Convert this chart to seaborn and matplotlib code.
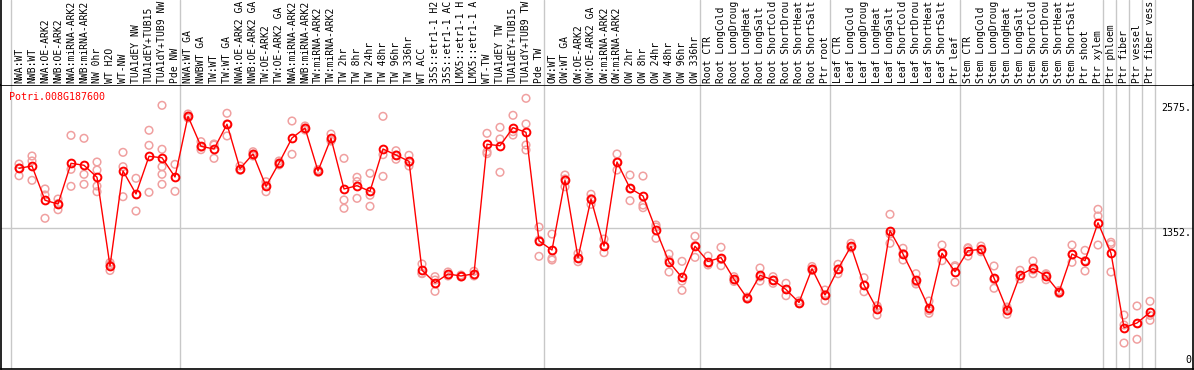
import matplotlib
matplotlib.use("Agg")
import matplotlib.pyplot as plt
import seaborn as sns
import pandas as pd
import numpy as np

# ---------------- data ----------------
gene_id = "Potri.008G187600"

labels = [
    "NWA:WT", "NWB:WT", "NWA:OE-ARK2", "NWB:OE-ARK2", "NWA:miRNA-ARK2", "NWB:miRNA-ARK2",
    "NW 0hr", "WT H2O", "WT-NW", "TUA1dEY NW", "TUA1dEY+TUB15", "TUA1dY+TUB9 NW", "Pde NW",
    "NWA:WT GA", "NWBWT GA", "TW:WT", "TW:WT GA", "NWA:OE-ARK2 GA", "NWB:OE-ARK2 GA",
    "TW:OE-ARK2", "TW:OE-ARK2 GA", "NWA:miRNA-ARK2", "NWB:miRNA-ARK2", "TW:miRNA-ARK2",
    "TW:miRNA-ARK2", "TW 2hr", "TW 8hr", "TW 24hr", "TW 48hr", "TW 96hr", "TW 336hr",
    "WT ACC", "35S::etr1-1 H2", "35S::etr1-1 AC", "LMX5::etr1-1 H", "LMX5::etr1-1 A",
    "WT-TW", "TUA1dEY TW", "TUA1dEY+TUB15", "TUA1dY+TUB9 TW", "Pde TW",
    "OW:WT", "OW:WT GA", "OW:OE-ARK2", "OW:OE-ARK2 GA", "OW:miRNA-ARK2", "OW:miRNA-ARK2",
    "OW 2hr", "OW 8hr", "OW 24hr", "OW 48hr", "OW 96hr", "OW 336hr",
    "Root CTR", "Root LongCold", "Root LongDroug", "Root LongHeat", "Root LongSalt",
    "Root ShortCold", "Root ShortDrou", "Root ShortHeat", "Root ShortSalt", "Ptr root",
    "Leaf CTR", "Leaf LongCold", "Leaf LongDroug", "Leaf LongHeat", "Leaf LongSalt",
    "Leaf ShortCold", "Leaf ShortDrou", "Leaf ShortHeat", "Leaf ShortSalt", "Ptr leaf",
    "Stem CTR", "Stem LongCold", "Stem LongDroug", "Stem LongHeat", "Stem LongSalt",
    "Stem ShortCold", "Stem ShortDrou", "Stem ShortHeat", "Stem ShortSalt", "Ptr shoot",
    "Ptr xylem", "Ptr phloem", "Ptr fiber", "Ptr vessel", "Ptr fiber vess",
]

mean_values = [
    1936, 1959, 1622, 1585, 1985, 1966, 1848, 976, 1910, 1684, 2054, 2040, 1851,
    2447, 2152, 2126, 2369, 1932, 2077, 1759, 1988, 2234, 2332, 1910, 2231, 1733,
    1765, 1710, 2126, 2067, 2005, 934, 812, 897, 878, 899, 2172, 2158, 2335, 2290, 1222,
    1133, 1818, 1057, 1634, 1172, 1998, 1740, 1664, 1330, 1015, 863, 1170,
    1020, 1059, 846, 661, 885, 838, 745, 617, 949, 691,
    946, 1170, 789, 553, 1323, 1094, 838, 560, 1101, 920,
    1126, 1140, 858, 543, 887, 953, 878, 720, 1094, 1028, 1401,
    1101, 370, 416, 521,
]

replicate_values = [
    [1978, 1939, 1863], [2057, 2008, 1818], [1733, 1674, 1445], [1634, 1590, 1529],
    [2260, 1926, 1759], [2231, 1877, 1779], [1998, 1919, 1762, 1706], [1010, 986, 932],
    [2093, 1952, 1657], [1838, 1516], [2310, 2162, 1700], [2555, 2123, 1952, 1877, 1779],
    [1975, 1710],
    [2470, 2450, 2430], [2198, 2145, 2119], [2175, 2165, 2034], [2477, 2372, 2254],
    [1959, 1924, 1916], [2099, 2077, 2057], [1804, 1767, 1706], [2008, 1988, 1969],
    [2401, 2074], [2352, 2332, 2312], [1924, 1910, 1897], [2273, 2214, 2204],
    [2034, 1625, 1543], [1848, 1806, 1641], [1887, 1671, 1563], [2447, 2070, 1857],
    [2109, 2067, 2025], [2064, 1993, 1959], [996, 904, 901], [871, 838, 727],
    [917, 878], [887, 868], [924, 878], [2280, 2099, 2080], [2339, 2224, 1897],
    [2457, 2296, 2263], [2624, 2372, 2165, 2116], [1359, 1231, 1071],
    [1290, 1052, 1035], [1870, 1831, 1755], [1099, 1055, 1018], [1681, 1639, 1582],
    [1241, 1172, 1107], [2077, 1998, 1919], [1870, 1733, 1618], [1860, 1575, 1549],
    [1379, 1359, 1248], [1094, 1035, 917], [1022, 828, 737], [1268, 1177, 1061],
    [1074, 1005, 986], [1160, 1040, 979], [871, 843, 824], [671, 661, 652],
    [956, 868, 828], [871, 838, 806], [806, 745, 684], [632, 612, 607],
    [971, 946, 932], [740, 696, 635],
    [993, 946, 900], [1199, 1158, 1153], [861, 784, 723], [586, 578, 494],
    [1484, 1290, 1199], [1150, 1099, 1035], [900, 819, 799], [632, 539, 511],
    [1182, 1094, 1028], [979, 966, 816],
    [1156, 1148, 1074], [1172, 1133, 1116], [976, 843, 757], [573, 556, 501],
    [934, 883, 848], [1025, 937, 900], [900, 892, 841], [735, 720, 706],
    [1182, 1089, 1012], [1130, 1028, 927], [1533, 1467, 1182],
    [1209, 1189, 917], [494, 396, 219], [583, 411, 256], [629, 491, 442],
]

# group sizes (separators drawn after each group)
group_sizes = [13, 28, 12, 10, 10, 11, 1, 1, 1, 1, 1]

ytick_values = [0, 1352, 2575]
ytick_labels = ["0", "1352.", "2575."]

# ---------------- styling ----------------
W, H = 1194, 370
sns.set_style("white")
plt.rcParams["font.family"] = ["DejaVu Sans Mono", "DejaVu Sans"]

RED = "#ff0000"
PALE = "#f0a0a0"
GRID = "#c8c8c8"

fig = plt.figure(figsize=(W / 100, H / 100), dpi=100)

# pixel geometry
left_px, right_px = 1.0, 1193.0
top_px, bot_px = 85.0, 369.0
step = 13.0
first_pt = 19.0
xmin = -(first_pt - left_px) / step
xmax = xmin + (right_px - left_px) / step
y0_px, k = 365.3, 0.10175
ytop = (y0_px - top_px) / k
ybot = (y0_px - bot_px) / k

ax = fig.add_axes([left_px / W, (H - bot_px) / H, (right_px - left_px) / W, (bot_px - top_px) / H])
axl = fig.add_axes([left_px / W, (H - top_px) / H, (right_px - left_px) / W, top_px / H])

n = len(labels)
xs = np.arange(n)

mean_df = pd.DataFrame({"x": xs, "value": mean_values})
rep_rows = [(i, v) for i, reps in enumerate(replicate_values) for v in reps]
rep_df = pd.DataFrame(rep_rows, columns=["x", "value"])

# separators
bounds = np.cumsum(group_sizes)
sep_positions = [-1 + 0.385] + [b - 1 + 0.385 for b in bounds[:-1]]
for sx in sep_positions:
    ax.axvline(sx, color=GRID, lw=1.0, zorder=0)
    axl.axvline(sx, color=GRID, lw=1.0, zorder=0)

ax.axhline(1352, color=GRID, lw=1.0, zorder=0)

sns.scatterplot(data=rep_df, x="x", y="value", ax=ax, marker="o", s=30,
                color=PALE, facecolor="none", edgecolor=PALE, linewidth=1.1,
                zorder=2, legend=False)
sns.lineplot(data=mean_df, x="x", y="value", ax=ax, estimator=None, sort=False,
             color=RED, lw=1.0, marker="o", markersize=5.6,
             markerfacecolor="none", markeredgecolor=RED, markeredgewidth=1.4,
             zorder=3, legend=False)

ax.set_xlim(xmin, xmax)
ax.set_ylim(ybot, ytop)
ax.set_xticks([])
ax.set_yticks([])
ax.set_xlabel("")
ax.set_ylabel("")
for s in ax.spines.values():
    s.set_color("black")
    s.set_linewidth(1.2)

# y value labels inside right edge
for v, t in zip(ytick_values, ytick_labels):
    va = "bottom" if v == 0 else "top"
    ax.text(xmax - 0.12, v, t, ha="right", va=va, fontsize=7.2, color="black")

ax.text(xmin + (9.0 - left_px) / step, ytop - 7.5 / k,
        gene_id, color=RED, fontsize=7.2, ha="left", va="top")

# label strip
axl.set_xlim(xmin, xmax)
axl.set_ylim(0, top_px)
axl.set_xticks([])
axl.set_yticks([])
for name, s in axl.spines.items():
    if name in ("left", "right"):
        s.set_color("black")
        s.set_linewidth(1.2)
    else:
        s.set_visible(False)
for i, lab in enumerate(labels):
    axl.text(i, top_px - 82.8, lab, rotation=90, ha="center", va="bottom",
             fontsize=7.0, color="black", clip_on=True)

fig.savefig("out.png", dpi=100)
